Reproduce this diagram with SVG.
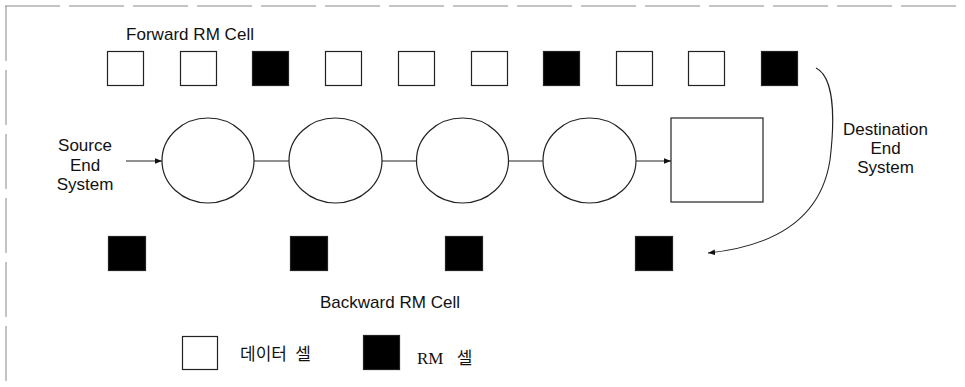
<svg xmlns="http://www.w3.org/2000/svg" width="965" height="387" viewBox="0 0 965 387">
<style>
.frame{fill:none;stroke:#888;stroke-width:1;stroke-dasharray:55 9}
.cell{stroke:#222;stroke-width:1.2}
.w{fill:#fff}
.b{fill:#000}
.node{fill:#fff;stroke:#222;stroke-width:1.2}
.conn{fill:none;stroke:#222;stroke-width:1.1}
.lbl{font-family:"Liberation Sans",Arial,sans-serif;font-size:17px;fill:#111}
.kr{font-family:"Liberation Serif","Noto Sans CJK KR",serif;font-size:17px;fill:#111}
</style>
<defs>
<marker id="ah" viewBox="0 0 10 10" refX="10" refY="5" markerWidth="7" markerHeight="7" markerUnits="userSpaceOnUse" orient="auto">
<path d="M0,1 L10,5 L0,9 z" fill="#111"/>
</marker>
</defs>
<rect width="965" height="387" fill="#fff"/>
<g id="frame">
<line class="frame" x1="5" y1="6" x2="965" y2="6"/>
<line class="frame" x1="6" y1="6" x2="6" y2="387"/>
</g>
<g id="forward-cells">
<text class="lbl" x="126" y="40" textLength="128">Forward RM Cell</text>
<rect class="cell w" x="107.5" y="51.5" width="36" height="34"/>
<rect class="cell w" x="180.5" y="51.5" width="36" height="34"/>
<rect class="cell b" x="252.5" y="51.5" width="36" height="34"/>
<rect class="cell w" x="325.5" y="51.5" width="36" height="34"/>
<rect class="cell w" x="398.5" y="51.5" width="36" height="34"/>
<rect class="cell w" x="471.5" y="51.5" width="36" height="34"/>
<rect class="cell b" x="543.5" y="51.5" width="36" height="34"/>
<rect class="cell w" x="616.5" y="51.5" width="36" height="34"/>
<rect class="cell w" x="688.5" y="51.5" width="36" height="34"/>
<rect class="cell b" x="761.5" y="51.5" width="36" height="34"/>
</g>
<g id="source">
<text class="lbl" x="85" y="151" text-anchor="middle">Source</text>
<text class="lbl" x="85" y="171" text-anchor="middle">End</text>
<text class="lbl" x="85" y="190" text-anchor="middle">System</text>
</g>
<g id="switch1"><ellipse class="node" cx="208" cy="160.5" rx="46" ry="42.5"/></g>
<g id="switch2"><ellipse class="node" cx="335.5" cy="160.5" rx="46.5" ry="42.5"/></g>
<g id="switch3"><ellipse class="node" cx="462.5" cy="160.5" rx="46" ry="42.5"/></g>
<g id="switch4"><ellipse class="node" cx="589.5" cy="160.5" rx="46.5" ry="42.5"/></g>
<g id="destination-box"><rect class="node" x="671" y="118" width="92" height="84"/></g>
<g id="destination">
<text class="lbl" x="885.5" y="135" text-anchor="middle">Destination</text>
<text class="lbl" x="885.5" y="154" text-anchor="middle">End</text>
<text class="lbl" x="885.5" y="173" text-anchor="middle">System</text>
</g>
<g id="connectors">
<line class="conn" x1="126" y1="161" x2="162" y2="161" marker-end="url(#ah)"/>
<line class="conn" x1="254" y1="161" x2="289" y2="161"/>
<line class="conn" x1="382" y1="161" x2="416" y2="161"/>
<line class="conn" x1="509" y1="161" x2="543" y2="161"/>
<line class="conn" x1="636" y1="161" x2="671" y2="161" marker-end="url(#ah)"/>
<path class="conn" d="M816,68 C832,76 836,110 830,160 C822,212 785,245 708,253" marker-end="url(#ah)"/>
</g>
<g id="backward-cells">
<rect class="cell b" x="108.5" y="236.5" width="37" height="34"/>
<rect class="cell b" x="290.5" y="236.5" width="37" height="34"/>
<rect class="cell b" x="445.5" y="236.5" width="37" height="34"/>
<rect class="cell b" x="635.5" y="236.5" width="37" height="34"/>
<text class="lbl" x="320" y="308" textLength="140">Backward RM Cell</text>
</g>
<g id="legend">
<rect class="cell w" x="182.5" y="336.5" width="35" height="33"/>
<text class="kr" x="240" y="360" word-spacing="4">데이터 셀</text>
<rect class="cell b" x="363.5" y="335.5" width="36" height="34"/>
<text class="kr" x="417" y="364" word-spacing="9">RM 셀</text>
</g>
</svg>
